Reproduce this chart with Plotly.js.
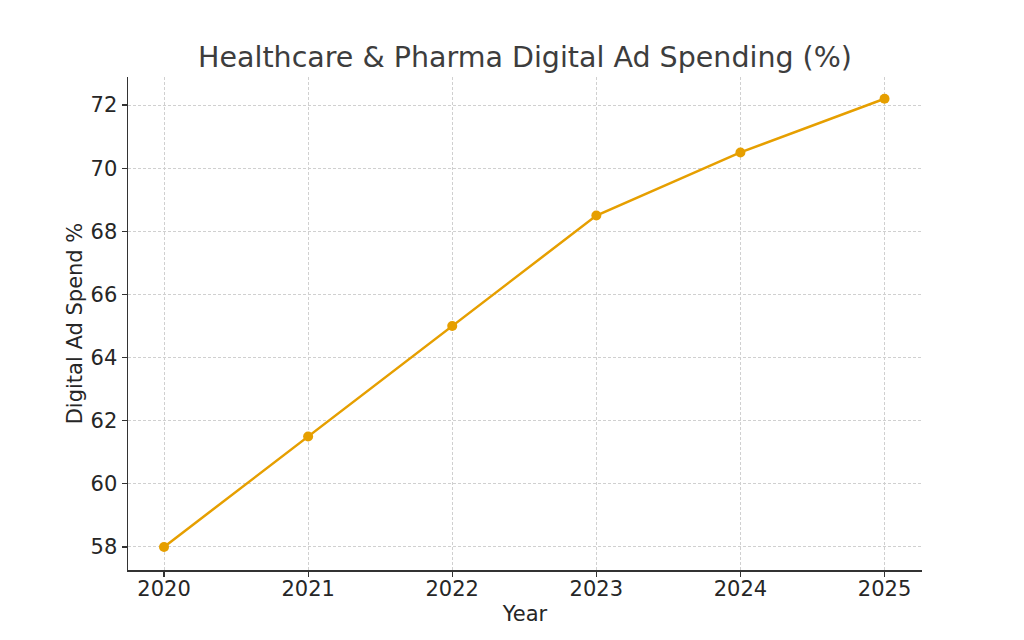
<!DOCTYPE html>
<html>
<head>
<meta charset="utf-8">
<script src="https://cdn.plot.ly/plotly-3.0.1.min.js"></script>
<style>html,body{margin:0;padding:0;background:#fff;}#chart{width:1024px;height:640px;}</style>
</head>
<body>
<div id="chart"></div>
<script>
const years = [2020, 2021, 2022, 2023, 2024, 2025];
const digitalSpend = [58, 61.5, 65, 68.5, 70.5, 72.2];
const yTicks = [58, 60, 62, 64, 66, 68, 70, 72];

const trace = {
  x: years,
  y: digitalSpend,
  type: 'scatter',
  mode: 'lines+markers',
  line: {color: '#E69F00', width: 2.5},
  marker: {color: '#E69F00', size: 10},
  hoverinfo: 'skip'
};

const font = 'DejaVu Sans, sans-serif';
const layout = {
  width: 1024, height: 640,
  paper_bgcolor: '#ffffff', plot_bgcolor: '#ffffff',
  margin: {l: 128, r: 102, t: 77, b: 70},
  showlegend: false,
  title: {text: 'Healthcare & Pharma Digital Ad Spending (%)', font: {family: font, size: 28.5, color: '#3d3d3d'}, xref: 'paper', x: 0.5, xanchor: 'center', y: 1 - 57/640, yanchor: 'middle'},
  xaxis: {
    range: [2019.75, 2025.26],
    tickvals: years, ticktext: years.map(String),
    showgrid: true, gridcolor: '#d0d0d0', griddash: '3px,2px', gridwidth: 1,
    showline: true, linecolor: '#333333', linewidth: 1.5,
    ticks: 'outside', ticklen: 5, tickcolor: '#333333', tickwidth: 1.2,
    tickfont: {family: font, size: 21, color: '#262626'},
    ticklabelstandoff: -6,
    zeroline: false,
    title: {text: 'Year', font: {family: font, size: 21, color: '#262626'}, standoff: 6}
  },
  yaxis: {
    range: [57.27, 72.89],
    tickvals: yTicks,
    showgrid: true, gridcolor: '#d0d0d0', griddash: '3px,2px', gridwidth: 1,
    showline: true, linecolor: '#333333', linewidth: 1.5,
    ticks: 'outside', ticklen: 5, tickcolor: '#333333', tickwidth: 1.2,
    tickfont: {family: font, size: 21, color: '#262626'},
    zeroline: false,
    title: {text: 'Digital Ad Spend %', font: {family: font, size: 21, color: '#262626'}, standoff: 2}
  }
};

Plotly.newPlot('chart', [trace], layout, {staticPlot: true, displayModeBar: false});
</script>
</body>
</html>
